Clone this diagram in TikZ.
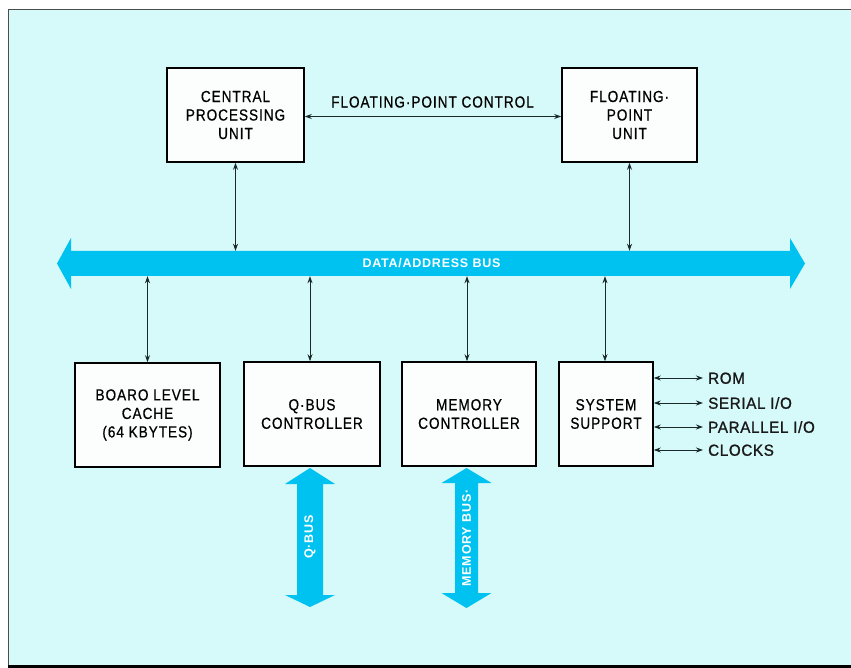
\documentclass[tikz,border=0pt]{standalone}
\usepackage{fontspec}
\setmainfont{Liberation Sans}
\newfontfamily\boxfont{Liberation Sans}[FakeStretch=0.85, LetterSpace=6, FakeBold=0.6]
\newfontfamily\labfont{Liberation Sans}[FakeStretch=0.95, LetterSpace=4, FakeBold=1.2]
\newfontfamily\busfont{Liberation Sans}[LetterSpace=6]
\usetikzlibrary{arrows.meta}
\definecolor{bg}{RGB}{214,250,249}
\definecolor{buscol}{RGB}{0,194,240}
\definecolor{linecol}{RGB}{25,40,40}
\definecolor{boxfill}{RGB}{252,254,254}
\tikzset{
  blk/.style={draw=black, line width=1.6pt, fill=boxfill, inner sep=0pt, align=center,
    font=\boxfont\fontsize{16}{18.5}\selectfont},
  conn/.style={draw=linecol, line width=0.9pt,
    {Stealth[length=7pt,width=5pt]}-{Stealth[length=7pt,width=5pt]}},
  sidelab/.style={anchor=west, inner xsep=5pt, inner ysep=0pt, text height=11.5pt, text depth=0pt,
    font=\labfont\fontsize{16}{18}\selectfont, text=black!90},
  buslab/.style={inner sep=0pt, text=white, font=\busfont\bfseries\fontsize{12.5}{14}\selectfont},
  busarrow/.style={fill=buscol, draw=none}
}
\begin{document}
\begin{tikzpicture}[x=1pt,y=-1pt]
\useasboundingbox (0,0) rectangle (851,668);
\fill[white] (0,0) rectangle (851,668);
\fill[bg] (8,10) rectangle (851,665);
\draw[line width=1pt, black!70] (851,10) -- (8,10) -- (8,665);
\fill[black] (8,665) rectangle (851,668);

% data/address bus arrow
\fill[busarrow] (57,263.5) -- (71,238) -- (71,251) -- (790,251) -- (790,238) -- (805,263.5)
  -- (790,289) -- (790,276) -- (71,276) -- (71,289) -- cycle;
\node[buslab, minimum width=719pt, minimum height=25pt] (bus) at (431.5,263.5) {DATA/ADDRESS BUS};

% boxes
\node[blk, minimum width=137pt, minimum height=94pt] (cpu) at (235.5,115) {CENTRAL\\PROCESSING\\UNIT};
\node[blk, minimum width=135pt, minimum height=94pt] (fpu) at (629.5,115) {FLOATING·\\POINT\\UNIT};
\node[blk, minimum width=145pt, minimum height=104pt] (cache) at (147.5,415) {BOARO LEVEL\\CACHE\\(64 KBYTES)};
\node[blk, minimum width=136pt, minimum height=104pt] (qctl) at (312,414) {Q·BUS\\CONTROLLER};
\node[blk, minimum width=134pt, minimum height=104pt] (mctl) at (469,414) {MEMORY\\CONTROLLER};
\node[blk, minimum width=94pt, minimum height=104pt] (sys) at (606,414) {SYSTEM\\SUPPORT};

% floating point control
\draw[conn] ([yshift=-1.5pt]cpu.east) -- ([yshift=-1.5pt]fpu.west);
\node[inner sep=0pt, font=\boxfont\fontsize{16}{18.5}\selectfont] (fpc) at (432.5,102) {FLOATING·POINT CONTROL};

% bus connections
\draw[conn] (cpu.south) -- (cpu.south |- bus.north);
\draw[conn] (fpu.south) -- (fpu.south |- bus.north);
\draw[conn] (bus.south -| cache.north) -- (cache.north);
\draw[conn] ([xshift=-2pt]qctl.north |- bus.south) -- ([xshift=-2pt]qctl.north);
\draw[conn] ([xshift=-2pt]mctl.north |- bus.south) -- ([xshift=-2pt]mctl.north);
\draw[conn] ([xshift=-1pt]sys.north |- bus.south) -- ([xshift=-1pt]sys.north);

% Q-bus arrow
\fill[busarrow] (310,468) -- (335,484) -- (323,484) -- (323,595) -- (335,595) -- (310,607)
  -- (285,595) -- (297,595) -- (297,484) -- (285,484) -- cycle;
\node[buslab, rotate=90] (qlab) at (310,537) {Q·BUS};

% Memory bus arrow
\fill[busarrow] (466.5,468) -- (491.5,483) -- (478,483) -- (478,593) -- (491.5,593) -- (466.5,608)
  -- (441.5,593) -- (455,593) -- (455,483) -- (441.5,483) -- cycle;
\node[buslab, rotate=90] (mlab) at (466.5,538) {MEMORY BUS·};

% system support I/O
\node[sidelab] (rom) at (703,378) {ROM};
\node[sidelab] (ser) at (703,403) {SERIAL I/O};
\node[sidelab] (par) at (703,427) {PARALLEL I/O};
\node[sidelab] (clk) at (703,450) {CLOCKS};
\draw[conn] (sys.east |- rom.west) -- (rom.west);
\draw[conn] (sys.east |- ser.west) -- (ser.west);
\draw[conn] (sys.east |- par.west) -- (par.west);
\draw[conn] (sys.east |- clk.west) -- (clk.west);
\end{tikzpicture}
\end{document}
